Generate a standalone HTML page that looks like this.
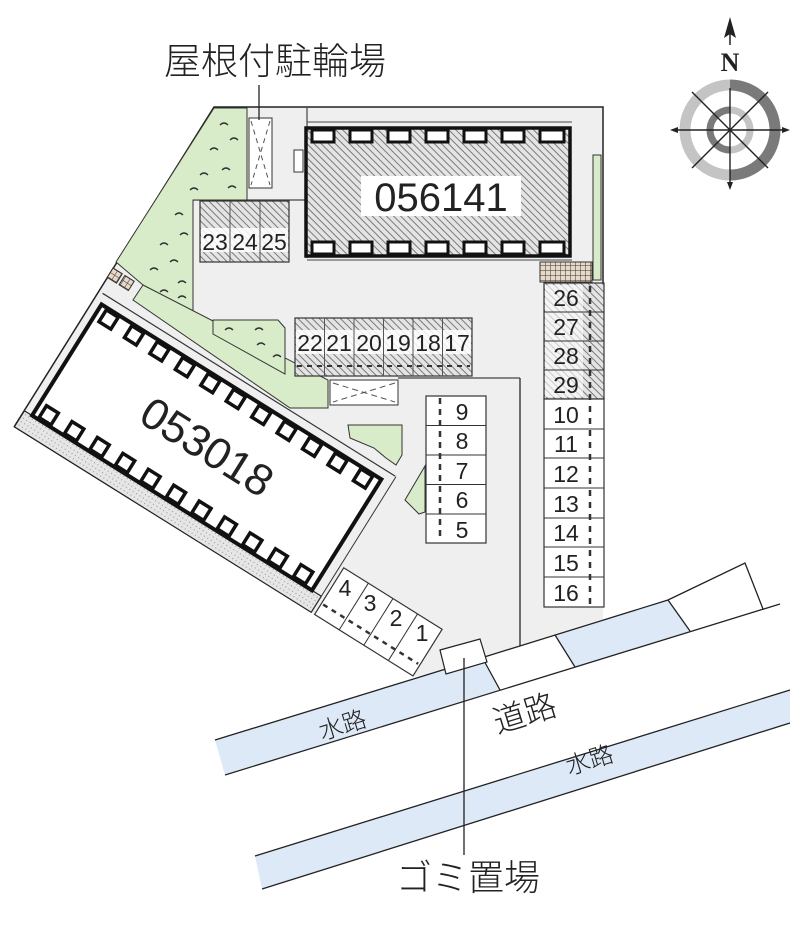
<!DOCTYPE html>
<html><head><meta charset="utf-8"><style>
html,body{margin:0;padding:0;background:#fff;}
svg{display:block;}
text{font-family:"Liberation Sans","Noto Sans CJK JP",sans-serif;fill:#222;}
.j{font-family:"Noto Sans CJK JP","Liberation Sans",sans-serif;font-weight:300;}
</style></head><body>
<svg width="800" height="940" viewBox="0 0 800 940" xmlns="http://www.w3.org/2000/svg">
<defs>
<pattern id="h" width="5" height="5" patternUnits="userSpaceOnUse" patternTransform="rotate(-45)">
<rect width="5" height="5" fill="#e4e4e4"/><line x1="0" y1="0" x2="0" y2="5" stroke="#7a7a7a" stroke-width="2"/></pattern>
<pattern id="dots" width="4" height="4" patternUnits="userSpaceOnUse">
<rect width="4" height="4" fill="#e6e6e6"/><circle cx="1" cy="1" r="0.6" fill="#999"/></pattern>
<pattern id="grid" width="5" height="5" patternUnits="userSpaceOnUse">
<rect width="5" height="5" fill="#e8d8c8"/><path d="M0 0H5M0 0V5" stroke="#333" stroke-width="1"/></pattern>
</defs>

<!-- lot -->
<polygon points="214,107 603,107 603,619 420,677 413,676 14,427" fill="#efefef"/>
<polyline points="14,427 214,107 603,107 603,283" fill="none" stroke="#222" stroke-width="1.5"/>
<line x1="520" y1="378" x2="520" y2="646" stroke="#444" stroke-width="1.5"/>
<line x1="398" y1="378" x2="520" y2="378" stroke="#444" stroke-width="1.2"/>
<line x1="307" y1="107" x2="307" y2="258" stroke="#444" stroke-width="1.2"/>
<line x1="193" y1="200" x2="307" y2="200" stroke="#444" stroke-width="1.2"/>

<!-- grass -->
<g fill="#d8ecc9" stroke="#333" stroke-width="1">
<polygon points="214,108 247,108 247,200 193,200 193,313 143,285 116,262"/>
<polygon points="143,285 328,380 328,408 290,408 133,300"/>
<polygon points="213,320 278,320 285,328 285,374 213,334"/>
<polygon points="348,425 402,425 402,455 396,465 386,458 374,448 350,438"/>
<polygon points="405,500 425,466 425,512 419,514"/>
<rect x="593" y="155" width="8" height="125"/>
</g>
<g fill="none" stroke="#333" stroke-width="1.3">
<path d="M220 125q4-4 8 0M230 140q4-4 8 0M210 150q4-4 8 0M222 170q4-4 8 0M200 175q4-4 8 0M228 188q4-4 8 0M190 190q4-4 8 0M175 215q4-4 8 0M180 235q4-4 8 0M160 245q4-4 8 0M170 262q4-4 8 0M150 270q4-4 8 0M178 283q4-4 8 0M160 292q4-4 8 0M178 298q4-4 8 0M225 330q4-4 8 0M255 330q4-4 8 0M257 345q4-4 8 0M273 357q4-4 8 0"/>
</g>

<!-- bike parking -->
<rect x="249" y="118" width="23" height="70" fill="#fff" stroke="#333" stroke-width="1"/>
<path d="M251 121L270 185M270 121L251 185" stroke="#555" stroke-dasharray="5,4" stroke-width="1"/>
<rect x="294" y="150" width="9" height="22" fill="#fff" stroke="#333"/>
<line x1="259" y1="85" x2="259" y2="120" stroke="#222" stroke-width="1.3"/>
<text x="275" y="74" font-size="37" text-anchor="middle" class="j">屋根付駐輪場</text>

<!-- building 056141 -->
<line x1="307" y1="122" x2="572" y2="122" stroke="#444"/>
<line x1="307" y1="260" x2="572" y2="260" stroke="#444"/>
<rect x="306" y="128" width="264" height="128" fill="url(#h)" stroke="#111" stroke-width="3.5"/>
<g fill="#fff" stroke="#111" stroke-width="3">
<rect x="312" y="130" width="22" height="12"/><rect x="350" y="130" width="22" height="12"/><rect x="388" y="130" width="22" height="12"/><rect x="426" y="130" width="22" height="12"/><rect x="464" y="130" width="22" height="12"/><rect x="502" y="130" width="22" height="12"/><rect x="540" y="130" width="24" height="12"/>
<rect x="312" y="242" width="22" height="12"/><rect x="350" y="242" width="22" height="12"/><rect x="388" y="242" width="22" height="12"/><rect x="426" y="242" width="22" height="12"/><rect x="464" y="242" width="22" height="12"/><rect x="502" y="242" width="22" height="12"/><rect x="540" y="242" width="24" height="12"/>
</g>
<rect x="361" y="176" width="160" height="40" fill="#fff"/>
<text x="441" y="211" font-size="40" text-anchor="middle">056141</text>
<rect x="540" y="262" width="52" height="20" fill="url(#grid)" stroke="#333"/>

<!-- parking 23-25 -->
<rect x="200" y="201" width="89" height="61" fill="url(#h)" stroke="#333" stroke-width="1.2"/>
<rect x="201" y="228" width="87" height="24" fill="#fff" opacity="0.85"/>
<line x1="230" y1="201" x2="230" y2="262" stroke="#555"/><line x1="260" y1="201" x2="260" y2="262" stroke="#555"/>
<g font-size="23" text-anchor="middle"><text x="215" y="250">23</text><text x="245" y="250">24</text><text x="274" y="250">25</text></g>

<!-- parking 17-22 -->
<rect x="295" y="318" width="177" height="58" fill="url(#h)" stroke="#333" stroke-width="1.2"/>
<rect x="296" y="330" width="175" height="24" fill="#fff" opacity="0.85"/>
<g stroke="#555"><line x1="324.5" y1="318" x2="324.5" y2="376"/><line x1="354" y1="318" x2="354" y2="376"/><line x1="383.5" y1="318" x2="383.5" y2="376"/><line x1="413" y1="318" x2="413" y2="376"/><line x1="442.5" y1="318" x2="442.5" y2="376"/></g>
<line x1="297" y1="366" x2="470" y2="366" stroke="#333" stroke-width="2" stroke-dasharray="5,5"/>
<g font-size="23" text-anchor="middle"><text x="310" y="351">22</text><text x="339" y="351">21</text><text x="369" y="351">20</text><text x="398" y="351">19</text><text x="428" y="351">18</text><text x="457" y="351">17</text></g>
<rect x="330" y="380" width="68" height="25" fill="#fff" stroke="#333"/>
<path d="M333 383L395 402M395 383L333 402" stroke="#555" stroke-dasharray="6,4"/>

<!-- parking 5-9 -->
<rect x="426" y="396" width="60" height="147" fill="#fff" stroke="#333" stroke-width="1.2"/>
<g stroke="#333"><line x1="426" y1="425.5" x2="486" y2="425.5"/><line x1="426" y1="455" x2="486" y2="455"/><line x1="426" y1="484.5" x2="486" y2="484.5"/><line x1="426" y1="514" x2="486" y2="514"/></g>
<line x1="440" y1="398" x2="440" y2="541" stroke="#333" stroke-width="2.5" stroke-dasharray="6,5"/>
<g font-size="23" text-anchor="middle"><text x="462" y="420">9</text><text x="462" y="449">8</text><text x="462" y="479">7</text><text x="462" y="508">6</text><text x="462" y="538">5</text></g>

<!-- parking 26-29 & 10-16 -->
<rect x="544" y="283" width="60" height="116" fill="url(#h)" stroke="#333" stroke-width="1.2"/>
<rect x="545" y="285" width="38" height="112" fill="#fff" opacity="0.6"/>
<rect x="544" y="399" width="60" height="208" fill="#fff" stroke="#333" stroke-width="1.2"/>
<g stroke="#333"><line x1="544" y1="312" x2="604" y2="312"/><line x1="544" y1="341" x2="604" y2="341"/><line x1="544" y1="370" x2="604" y2="370"/><line x1="544" y1="399" x2="604" y2="399"/>
<line x1="544" y1="429" x2="604" y2="429"/><line x1="544" y1="458" x2="604" y2="458"/><line x1="544" y1="488" x2="604" y2="488"/><line x1="544" y1="518" x2="604" y2="518"/><line x1="544" y1="547" x2="604" y2="547"/><line x1="544" y1="577" x2="604" y2="577"/></g>
<line x1="590" y1="286" x2="590" y2="605" stroke="#333" stroke-width="2.5" stroke-dasharray="6,6"/>
<g font-size="23" text-anchor="middle"><text x="566" y="306">26</text><text x="566" y="335">27</text><text x="566" y="364">28</text><text x="566" y="393">29</text><text x="566" y="423">10</text><text x="566" y="452">11</text><text x="566" y="482">12</text><text x="566" y="512">13</text><text x="566" y="541">14</text><text x="566" y="571">15</text><text x="566" y="601">16</text></g>

<!-- building 053018 (rotated frame) -->
<g transform="translate(207,447) rotate(32)">
<line x1="-170" y1="-75" x2="175" y2="-75" stroke="#333" stroke-width="1.2"/>
<rect x="-174" y="66" width="350" height="19" fill="url(#dots)" stroke="#222" stroke-width="1.2"/>
<line x1="176" y1="-75" x2="176" y2="85" stroke="#333"/>
<rect x="-165" y="-65" width="330" height="131" fill="#fff" stroke="#111" stroke-width="4"/>
<g fill="#fff" stroke="#111" stroke-width="3.5">
<rect x="-158" y="-63" width="14" height="14"/><rect x="-128" y="-63" width="14" height="14"/><rect x="-98" y="-63" width="14" height="14"/><rect x="-68" y="-63" width="14" height="14"/><rect x="-38" y="-63" width="14" height="14"/><rect x="-8" y="-63" width="14" height="14"/><rect x="22" y="-63" width="14" height="14"/><rect x="52" y="-63" width="14" height="14"/><rect x="82" y="-63" width="14" height="14"/><rect x="112" y="-63" width="14" height="14"/><rect x="142" y="-63" width="14" height="14"/>
<rect x="-158" y="50" width="14" height="14"/><rect x="-128" y="50" width="14" height="14"/><rect x="-98" y="50" width="14" height="14"/><rect x="-68" y="50" width="14" height="14"/><rect x="-38" y="50" width="14" height="14"/><rect x="-8" y="50" width="14" height="14"/><rect x="22" y="50" width="14" height="14"/><rect x="52" y="50" width="14" height="14"/><rect x="82" y="50" width="14" height="14"/><rect x="112" y="50" width="14" height="14"/><rect x="142" y="50" width="14" height="14"/>
</g>
<text x="0" y="15" font-size="44" text-anchor="middle">053018</text>
<!-- parking 1-4 -->
<rect x="180" y="30" width="116" height="55" fill="#fff" stroke="#333" stroke-width="1.2"/>
<g stroke="#333"><line x1="209" y1="30" x2="209" y2="85"/><line x1="238" y1="30" x2="238" y2="85"/><line x1="267" y1="30" x2="267" y2="85"/></g>
<line x1="182" y1="72" x2="294" y2="72" stroke="#333" stroke-width="2.5" stroke-dasharray="5,5"/>
</g>
<g font-size="23" text-anchor="middle"><text x="345" y="596">4</text><text x="370" y="611">3</text><text x="396" y="626">2</text><text x="422" y="641">1</text></g>
<g transform="translate(113,268) rotate(32)"><rect x="0" y="0" width="11" height="11" fill="url(#grid)" stroke="#333"/><rect x="14" y="0" width="11" height="11" fill="url(#grid)" stroke="#333"/></g>

<!-- water channels & road -->
<polygon points="215,740 482,657 500,690 225,775" fill="#dde9f7"/>
<polygon points="555,635 668,600 690,631 575,667" fill="#dde9f7"/>
<polygon points="255,856 790,690 790,723 262,889" fill="#dde9f7"/>
<g stroke="#222" stroke-width="1.3" fill="none">
<line x1="215" y1="740" x2="420" y2="677"/>
<line x1="420" y1="677" x2="668" y2="600"/>
<line x1="225" y1="775" x2="780" y2="604"/>
<line x1="482" y1="657" x2="500" y2="690"/><line x1="555" y1="635" x2="575" y2="667"/>
<line x1="668" y1="600" x2="690" y2="631"/>
<polyline points="668,600 745,563 763,609"/>
<line x1="255" y1="856" x2="790" y2="690"/>
<line x1="262" y1="889" x2="790" y2="723"/>
</g>
<polygon points="440,650 480,639 487,662 446,674" fill="#fff" stroke="#222" stroke-width="1.2"/>
<line x1="464" y1="658" x2="464" y2="855" stroke="#222" stroke-width="1.3"/>
<text x="468" y="890" font-size="36" text-anchor="middle" class="j">ゴミ置場</text>
<text x="0" y="0" font-size="24" class="j" transform="translate(345,733) rotate(-17)" text-anchor="middle">水路</text>
<text x="0" y="0" font-size="32" class="j" transform="translate(528,724) rotate(-17)" text-anchor="middle">道路</text>
<text x="0" y="0" font-size="24" class="j" transform="translate(592,768) rotate(-17)" text-anchor="middle">水路</text>

<!-- compass -->
<g transform="translate(730,130)">
<path d="M0 -45A45 45 0 0 0 0 45" fill="none" stroke="#c4c4c4" stroke-width="11"/>
<path d="M0 -45A45 45 0 0 1 0 45" fill="none" stroke="#7a7a7a" stroke-width="11"/>
<path d="M0 -20A20 20 0 0 0 0 20" fill="none" stroke="#7a7a7a" stroke-width="7"/>
<path d="M0 -20A20 20 0 0 1 0 20" fill="none" stroke="#c4c4c4" stroke-width="7"/>
<g stroke="#222" stroke-width="1.4">
<line x1="-56" y1="0" x2="56" y2="0"/><line x1="0" y1="-42" x2="0" y2="56"/>
<line x1="-38" y1="-38" x2="38" y2="38"/><line x1="38" y1="-38" x2="-38" y2="38"/>
</g>
<polygon points="-60,0 -52,-3 -52,3" fill="#222"/><polygon points="60,0 52,-3 52,3" fill="#222"/>
<polygon points="0,60 -3,52 3,52" fill="#222"/>
<polygon points="0,-113 -6,-92 0,-96 6,-92" fill="#222"/>
<line x1="0" y1="-96" x2="0" y2="-85" stroke="#222" stroke-width="1.5"/>
<text x="0" y="-59" font-size="26" font-weight="bold" text-anchor="middle" style="font-family:'Liberation Serif',serif">N</text>
</g>
</svg>
</body></html>
